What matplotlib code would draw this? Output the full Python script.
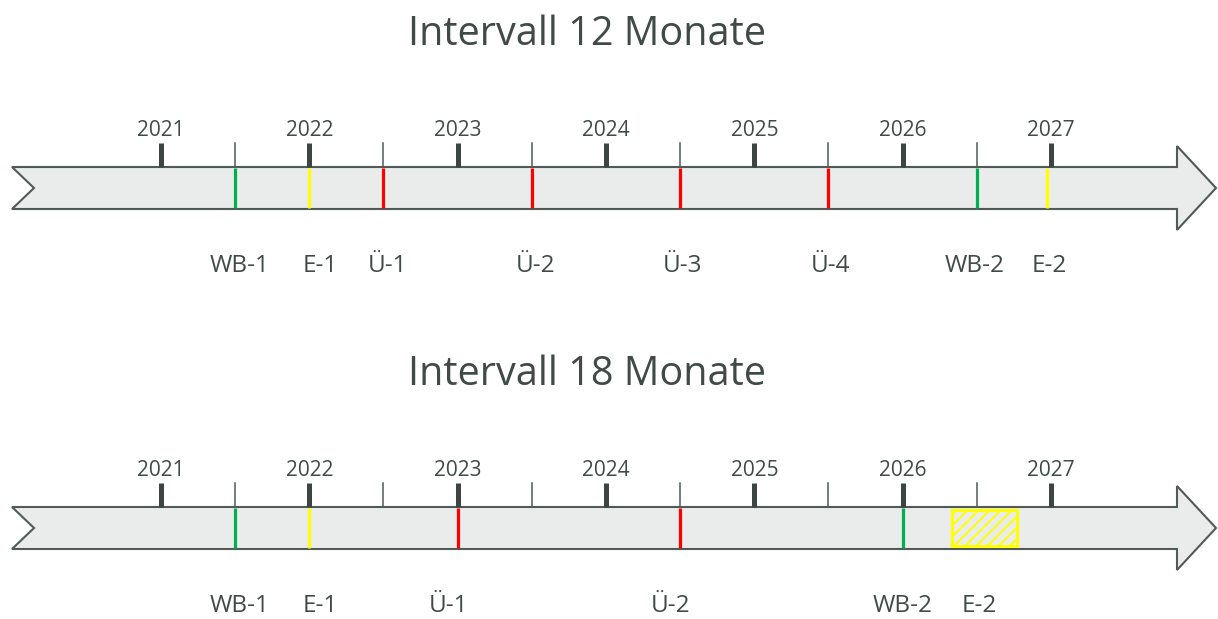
import matplotlib.pyplot as plt
from matplotlib.patches import Polygon, Rectangle

plt.rcParams['font.family'] = ['Open Sans', 'DejaVu Sans']
plt.rcParams['hatch.linewidth'] = 1.4

# data
years = [2021, 2022, 2023, 2024, 2025, 2026, 2027]
half_years = [2021.5, 2022.5, 2023.5, 2024.5, 2025.5, 2026.5]

titles = ["Intervall 12 Monate", "Intervall 18 Monate"]

events_12 = ["WB-1", "E-1", "Ü-1", "Ü-2", "Ü-3", "Ü-4", "WB-2", "E-2"]
times_12 = [2021.5, 2022.0, 2022.5, 2023.5, 2024.5, 2025.5, 2026.5, 2026.97]
kinds_12 = ["WB", "E", "Ü", "Ü", "Ü", "Ü", "WB", "E"]

events_18 = ["WB-1", "E-1", "Ü-1", "Ü-2", "WB-2"]
times_18 = [2021.5, 2022.0, 2023.0, 2024.5, 2026.0]
kinds_18 = ["WB", "E", "Ü", "Ü", "WB"]

# E-2 window in the 18 month plan (start, end)
window_18 = ("E-2", 2026.33, 2026.77)

# label nudges in pixels (placement only)
shift_12 = [4, 11, 4, 4, 2, 2, -2, 3]
shift_18 = [4, 11, -9, -10, 0]

colors = {"WB": "#00b050", "E": "#ffff00", "Ü": "#ff0000"}
txt = "#404a47"
edge = "#505a57"
fill = "#e9ecea"

PPY = 148.33  # pixels per year


# pixel -> year helper for the layout (161 px = 2021)
def px(p):
    return 2021 + (p - 161) / PPY


fig = plt.figure(figsize=(12.18, 6.19), dpi=100)
ax = fig.add_axes([0, 0, 1, 1])
ax.set_xlim(px(0), px(1218))
ax.set_ylim(619, 0)
ax.axis("off")


def draw_panel(yc, title, names, times, kinds, shifts, window=None):
    ax.text(px(587), yc - 153, title, ha="center", va="center",
            fontsize=28.5, color=txt)
    # arrow body
    x0, notch, hb, tip = px(12), px(34), px(1177), px(1216)
    pts = [(x0, yc - 21), (hb, yc - 21), (hb, yc - 42), (tip, yc),
           (hb, yc + 42), (hb, yc + 21), (x0, yc + 21), (notch, yc)]
    ax.add_patch(Polygon(pts, closed=True, facecolor=fill, edgecolor=edge,
                         linewidth=1.5, zorder=1))
    # year ticks and labels
    for y in years:
        ax.plot([y, y], [yc - 45, yc - 21], color="#3d4542", lw=3.6,
                solid_capstyle="butt", zorder=2)
        ax.text(y, yc - 58, str(y), ha="center", va="center",
                fontsize=15, color=txt)
    for h in half_years:
        ax.plot([h, h], [yc - 45, yc - 21], color=edge, lw=1.1, zorder=2)
    # events
    for n, t, k, s in zip(names, times, kinds, shifts):
        ax.plot([t, t], [yc - 20, yc + 20], color=colors[k], lw=2.3,
                solid_capstyle="butt", zorder=3)
        ax.text(t + s / PPY, yc + 78, n, ha="center", va="center",
                fontsize=17.5, color=txt)
    if window is not None:
        n, a, b = window
        ax.add_patch(Rectangle((a, yc - 18), b - a, 36, facecolor="none",
                               edgecolor=colors["E"], hatch="///",
                               linewidth=2.2, zorder=3))
        ax.text((a + b) / 2 - 5 / PPY, yc + 78, n, ha="center", va="center",
                fontsize=17.5, color=txt)


draw_panel(188, titles[0], events_12, times_12, kinds_12, shift_12)
draw_panel(528, titles[1], events_18, times_18, kinds_18, shift_18, window_18)

fig.savefig("out.png", dpi=100)
